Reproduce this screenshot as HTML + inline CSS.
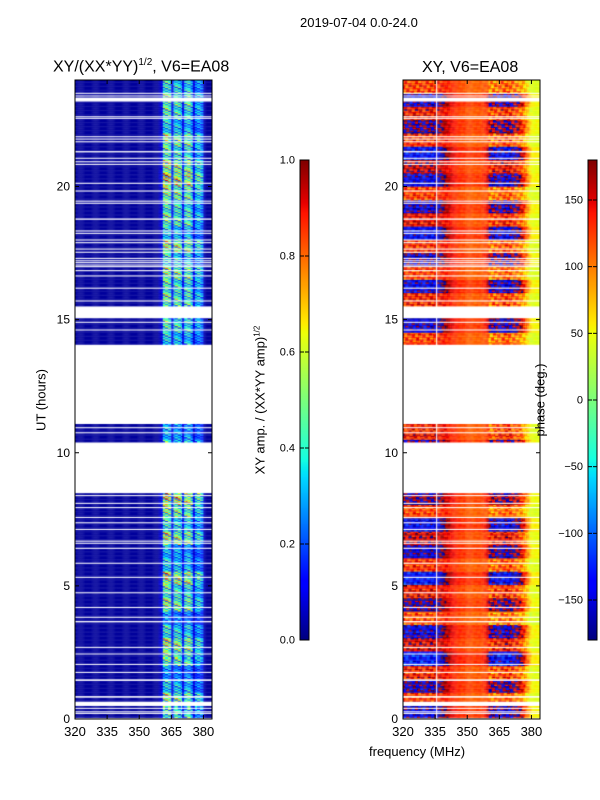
<!DOCTYPE html>
<html><head><meta charset="utf-8">
<style>
html,body{margin:0;padding:0;background:#fff;}
body{width:600px;height:800px;position:relative;overflow:hidden;font-family:"Liberation Sans","DejaVu Sans",sans-serif;color:#000;}
.t{position:absolute;white-space:nowrap;font-size:12px;z-index:5;}
canvas{position:absolute;}
svg{position:absolute;left:0;top:0;z-index:4;}
</style></head>
<body>
<div class="t" style="left:300px;top:15px;font-size:13px;">2019-07-04 0.0-24.0</div>
<div class="t" style="left:53px;top:57px;font-size:16px;">XY/(XX*YY)<sup style="font-size:10px">1/2</sup>, V6=EA08</div>
<div class="t" style="left:422px;top:59px;font-size:16px;">XY, V6=EA08</div>
<div class="t" style="left:41px;top:400px;transform:translate(-50%,-50%) rotate(-90deg);font-size:13px;">UT (hours)</div>
<div class="t" style="left:260px;top:400px;transform:translate(-50%,-50%) rotate(-90deg);font-size:13px;">XY amp. / (XX*YY amp)<sup style="font-size:8px">1/2</sup></div>
<div class="t" style="left:540px;top:400px;transform:translate(-50%,-50%) rotate(-90deg);font-size:13px;">phase (deg.)</div>
<div class="t" style="left:369px;top:744px;font-size:13px;">frequency (MHz)</div>
<canvas id="c1" width="137" height="639" style="left:75px;top:80px"></canvas>
<canvas id="c2" width="137" height="639" style="left:403px;top:80px"></canvas>
<canvas id="cb1" width="9" height="480" style="left:300px;top:160px"></canvas>
<canvas id="cb2" width="9" height="480" style="left:588px;top:160px"></canvas>
<svg id="ax" width="600" height="800"></svg>
<script>
// ---- data ----
const freqStart = 320, freqEnd = 384, chanWidth = 0.5;
const hourTicks = [0,5,10,15,20];
const freqTicks = [320,335,350,365,380];
const ampTicks = [0.0,0.2,0.4,0.6,0.8,1.0];
const phaseTicks = [-150,-100,-50,0,50,100,150];
const validRanges = [[0.05,8.48],[10.4,11.08],[14.07,15.05],[15.51,24]];
const flagged = [[23.48,23.52],[23.38,23.42],[23.19,23.34],[22.6,22.64],[22.54,22.58],[21.85,21.89],[21.76,21.8],[21.66,21.7],[21.28,21.33],[21.04,21.08],[20.91,20.95],[20.81,20.85],[20.1,20.14],[19.81,19.85],[19.43,19.47],[19.35,19.39],[18.75,18.8],[18.31,18.35],[18.22,18.26],[17.97,18.01],[17.87,17.91],[17.63,17.67],[17.51,17.55],[17.28,17.32],[17.19,17.23],[17.12,17.16],[17.03,17.07],[16.97,17.01],[16.82,16.86],[16.62,16.66],[16.16,16.2],[15.68,15.72],[14.88,14.92],[14.59,14.63],[10.92,10.96],[10.73,10.77],[8.37,8.41],[8.08,8.12],[7.92,7.96],[7.55,7.59],[7.35,7.39],[7.1,7.14],[6.66,6.7],[6.58,6.62],[6.39,6.43],[5.83,5.87],[5.3,5.34],[4.72,4.76],[4.17,4.21],[3.8,3.84],[3.63,3.68],[2.67,2.71],[2.43,2.46],[2.03,2.07],[1.73,1.77],[1.43,1.49],[0.8,0.86],[0.49,0.65],[0.38,0.42],[0.25,0.29],[0.19,0.23]];
const flaggedChans = [335.5];
const ampBase = 0.025;
const ampBand = [0,0,0,0,0,0,0,0,0,0, 0,0,0,0,0,0,0,0,0,0, 0,0,0,0,0,0,0,0,0,0, 0,0,0,0,0,0,0,0,0,0.03, 0.08,0.42,0.46,0.44,0.38,0.1,0.36,0.42,0.4,0.34, 0.1,0.34,0.4,0.4,0.32,0.08,0.26,0.3,0.28,0.22, 0.02,0,0,0];
const ampRowGain = [1.0,1.2,0.8,0.6,1.1,1.3,0.9,0.6,1.2,1.0,1.4,0.8,0.7,1.3,0.9,1.2,1.5,0.8,1.0,0.6,0.9,0.7,0.7,0.7,0.7,0.7,0.7,0.7,0.8,1.0,0.9,1.1,1.0,1.2,0.9,1.3,0.8,1.1,1.0,1.2,1.5,1.3,1.0,1.2,0.8,1.0,1.1,0.9];
const ampFine = [1.0,0.45,1.3,0.7,1.15,0.4,1.4,0.85,1.05,0.55];
const phaseBase = [178,178,178,178,178,178,178,178,178,178, 178,178,178,178,178,178,175,170,165,160, 155,150,145,140,135,130,128,125,125,122, 120,120,118,118,120,120,122,125,130,140, 150,155,160,160,165,165,170,170,170,170, 165,160,155,150,140,130,115,95,80,60, 50,50,50,50];
const phaseSens = [85,85,85,85,85,85,85,85,85,85, 85,85,85,85,80,75,70,60,50,40, 35,30,25,20,15,15,15,15,15,15, 15,15,15,15,15,15,15,20,25,40, 95,95,95,95,95,90,90,90,90,90, 90,85,85,85,80,70,60,50,40,30, 12,12,12,12];
const phaseRowOff = [0.6,-0.9,0.3,-0.7,0.9,-0.4,0.5,-1.0,0.2,-0.6,0.8,-0.8,0.4,-0.3,0.7,-0.9,0.1,-0.5,0.6,-0.8,0.3,-0.6,-0.7,0.5,0.8,-0.6,0.4,-0.8,-0.9,0.5,0.2,-0.7,0.6,-0.9,0.3,-0.8,0.7,-0.5,0.4,-0.9,0.6,-0.3,0.8,-0.7,0.2,-0.6,0.5,-0.9];
const phaseFine = [1.0,-0.4,0.7,1.2,-0.8,0.5,1.1,-0.6,0.9,0.3];

function jet(v){
  v=Math.max(0,Math.min(1,v));
  function pw(pts){for(let i=1;i<pts.length;i++){if(v<=pts[i][0]){const a=pts[i-1],b=pts[i];return a[1]+(b[1]-a[1])*(v-a[0])/(b[0]-a[0]);}}return pts[pts.length-1][1];}
  const r=pw([[0,0],[0.35,0],[0.66,1],[0.89,1],[1,0.5]]);
  const g=pw([[0,0],[0.125,0],[0.375,1],[0.64,1],[0.91,0],[1,0]]);
  const b=pw([[0,0.5],[0.11,1],[0.34,1],[0.65,0],[1,0]]);
  return 'rgb('+Math.round(r*255)+','+Math.round(g*255)+','+Math.round(b*255)+')';
}
const W=137,H=639;
function xs(f){return (f-freqStart)*W/(freqEnd-freqStart);}
function ys(h){return H-h*H/24;}
const dh=0.05;
function drawHeat(ctx,valueFn){
  ctx.fillStyle='#fff';ctx.fillRect(0,0,W,H);
  for(const [h0,h1] of validRanges){
    for(let h=h0;h<h1-1e-9;h+=dh){
      const he=Math.min(h+dh,h1);
      const hh=Math.min(47,Math.floor(h*2));
      const sub=Math.floor((h*2-hh)*10)%10;
      for(let f=freqStart;f<freqEnd;f+=chanWidth){
        const mi=Math.floor(f-freqStart);
        ctx.fillStyle=valueFn(mi,hh,sub,Math.round((f-freqStart)/chanWidth));
        const x0=xs(f),x1=xs(f+chanWidth),y0=ys(he),y1=ys(h);
        ctx.fillRect(x0,y0,x1-x0+0.3,y1-y0+0.3);
      }
    }
  }
  ctx.fillStyle='#fff';
  for(const [a,b] of flagged){const y0=ys(b),y1=ys(a);ctx.fillRect(0,y0,W,Math.max(1,y1-y0));}
}
const c1=document.getElementById('c1').getContext('2d');
drawHeat(c1,(mi,hh,sub,ci)=>{
  const v=ampBase+ampBand[mi]*ampRowGain[hh]*ampFine[(sub+Math.floor(ci/3))%10];
  return jet(v);
});
const c2=document.getElementById('c2').getContext('2d');
drawHeat(c2,(mi,hh,sub,ci)=>{
  let p=phaseBase[mi]+phaseSens[mi]*(phaseRowOff[hh]*0.7+0.5*phaseFine[(sub+ci*3)%10]*phaseRowOff[(hh+sub)%48]);
  p=((p+180)%360+360)%360-180;
  return jet((p+180)/360);
});
c2.fillStyle='#fff';
for(const f of flaggedChans){c2.fillRect(xs(f),0,1,H);}
for(const id of ['cb1','cb2']){
  const c=document.getElementById(id).getContext('2d');
  for(let i=0;i<480;i++){c.fillStyle=jet(1-i/479);c.fillRect(0,i,9,1);}
}
const NS='http://www.w3.org/2000/svg';
const svg=document.getElementById('ax');
function el(tag,attrs,txt){const e=document.createElementNS(NS,tag);for(const k in attrs)e.setAttribute(k,attrs[k]);if(txt!==undefined)e.textContent=txt;svg.appendChild(e);return e;}
for(const [px,tag] of [[75,'amp'],[403,'phase']]){
  const r=el('rect',{x:px,y:80,width:W,height:H,fill:'none',stroke:'#000','stroke-width':1});
  
  
  for(const h of hourTicks){
    const y=80+ys(h);
    el('line',{x1:px,x2:px+4,y1:y,y2:y,stroke:'#000'});
    el('line',{x1:px+W-4,x2:px+W,y1:y,y2:y,stroke:'#000'});
    const t=el('text',{x:px-5,y:y+4,'text-anchor':'end','font-size':12,'font-family':'Liberation Sans'},String(h));
    
    
  }
  for(const f of freqTicks){
    const x=px+xs(f);
    el('line',{x1:x,x2:x,y1:80+H,y2:80+H-4,stroke:'#000'});
    el('line',{x1:x,x2:x,y1:80,y2:84,stroke:'#000'});
    const t=el('text',{x:x,y:736,'text-anchor':'middle','font-size':13,'font-family':'Liberation Sans'},String(f));
    
    
  }
}
for(const [cx,ticks,lo,hi,fmt] of [[300,ampTicks,0,1,v=>v.toFixed(1)],[588,phaseTicks,-180,180,v=>String(v).replace('-','\u2212')]]){
  el('rect',{x:cx,y:160,width:9,height:480,fill:'none',stroke:'#000','stroke-width':1});
  for(const v of ticks){
    const y=640-(v-lo)/(hi-lo)*480;
    el('line',{x1:cx,x2:cx+4,y1:y,y2:y,stroke:'#000'});
    el('line',{x1:cx+9,x2:cx+5,y1:y,y2:y,stroke:'#000'});
    const t=el('text',{x:cx-5,y:y+3.5,'text-anchor':'end','font-size':11,'font-family':'Liberation Sans'},fmt(v));
    
    
  }
}
</script>
</body></html>
